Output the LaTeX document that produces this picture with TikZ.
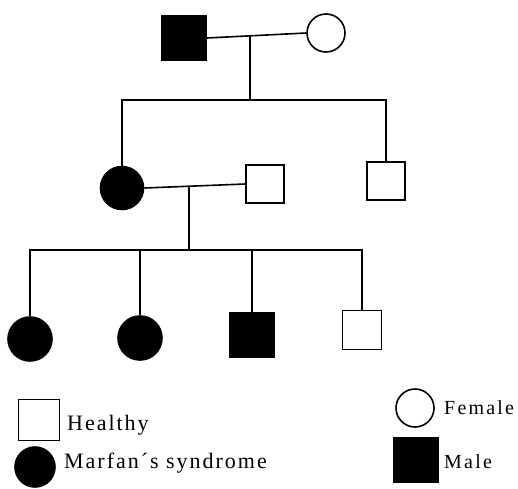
\documentclass[tikz,border=0pt]{standalone}
\usepackage{fontspec}
\newfontfamily\legendfont{Liberation Serif}[LetterSpace=9]
\newfontfamily\legendwidefont{Liberation Serif}[LetterSpace=11]
\usepackage{tikz}
\usetikzlibrary{positioning}
\tikzset{
    maleNode/.style={draw, line width=1.6pt, rectangle, inner sep=0pt},
    femaleNode/.style={draw, line width=1.6pt, circle, inner sep=0pt},
    affected/.style={fill=black},
    healthy/.style={fill=white},
    legendText/.style={anchor=base west, inner sep=0pt, font=\legendfont\fontsize{22}{26}\selectfont},
    legendSmall/.style={legendText, font=\legendwidefont\fontsize{20}{24}\selectfont},
    kinLine/.style={line width=1.6pt}
}

\begin{document}
\begin{tikzpicture}[x=1pt,y=-1pt]
			\useasboundingbox (0,0) rectangle (518,488);
			% first generation
			\node[maleNode, affected, minimum size=44pt] (gOneMale) at (184,38) {};
			\node[femaleNode, healthy, minimum size=38pt] (gOneFemale) at (326,33) {};
			\coordinate (mateOne) at (250,36);
			\coordinate (sibOne) at (250,100);
			\draw[kinLine] (gOneMale.east) -- (gOneFemale.west);
			\draw[kinLine] (mateOne) -- (sibOne);
			% second generation
			\node[femaleNode, affected, minimum size=43pt] (gTwoDaughter) at (122,188) {};
			\node[maleNode, healthy, minimum size=38pt] (gTwoHusband) at (265,184) {};
			\node[maleNode, healthy, minimum size=38pt] (gTwoSon) at (386,181) {};
			\draw[kinLine] (gTwoDaughter.north) |- (sibOne) -| (gTwoSon.north);
			\coordinate (mateTwo) at (189,187);
			\coordinate (sibTwo) at (189,250);
			\draw[kinLine] (gTwoDaughter.east) -- (gTwoHusband.west);
			\draw[kinLine] (mateTwo) -- (sibTwo);
			% third generation
			\node[femaleNode, affected, minimum size=44pt] (gThreeA) at (30,339) {};
			\node[femaleNode, affected, minimum size=44pt] (gThreeB) at (140,338) {};
			\node[maleNode, affected, minimum size=44pt] (gThreeC) at (252,335) {};
			\node[maleNode, healthy, minimum size=39pt] (gThreeD) at (362,330) {};
			\draw[kinLine] (gThreeA.north) |- (sibTwo) -| (gThreeD.north);
			\draw[kinLine] (gThreeB.north) -- (gThreeB.north |- sibTwo);
			\draw[kinLine] (gThreeC.north) -- (gThreeC.north |- sibTwo);
			% legend
			\node[maleNode, healthy, minimum size=41pt] (keyHealthy) at (39,420) {};
			\node[legendText] (keyHealthyText) at (67,430) {Healthy};
			\node[femaleNode, affected, minimum size=40pt] (keyMarfan) at (35,467) {};
			\node[legendText] (keyMarfanText) at (64,468) {Marfan´s syndrome};
			\node[femaleNode, healthy, minimum size=38pt] (keyFemale) at (415,408) {};
			\node[legendSmall] (keyFemaleText) at (444,414) {Female};
			\node[maleNode, affected, minimum size=44pt] (keyMale) at (416,460) {};
			\node[legendSmall] (keyMaleText) at (444,468) {Male};
		\end{tikzpicture}
\end{document}
